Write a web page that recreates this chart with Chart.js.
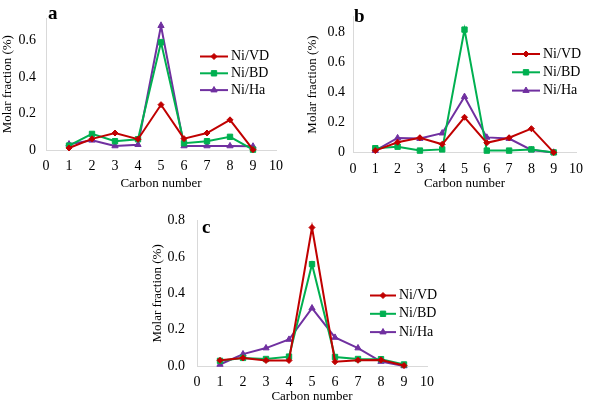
<!DOCTYPE html>
<html>
<head>
<meta charset="utf-8">
<script src="https://cdn.jsdelivr.net/npm/chart.js@4.4.0/dist/chart.umd.min.js"></script>
<style>
html, body { margin: 0; padding: 0; background: #fff; width: 591px; height: 402px; overflow: hidden; }
canvas { position: absolute; }
</style>
</head>
<body>
<canvas id="chartA" width="295" height="200" style="left:0;top:0"></canvas>
<canvas id="chartB" width="296" height="200" style="left:295px;top:0"></canvas>
<canvas id="chartC" width="300" height="210" style="left:150px;top:200px"></canvas>
<script>
// carbon number on the x axis
const carbons = [1, 2, 3, 4, 5, 6, 7, 8, 9];
const seriesNames = ['Ni/VD', 'Ni/BD', 'Ni/Ha'];

// panel a
const aVD = [0.011, 0.061, 0.093, 0.059, 0.248, 0.062, 0.093, 0.165, 0.002];
const aBD = [0.024, 0.088, 0.048, 0.059, 0.589, 0.037, 0.048, 0.072, 0.002];
const aHa = [0.032, 0.053, 0.022, 0.029, 0.680, 0.022, 0.022, 0.022, 0.020];

// panel b
const bVD = [0.014, 0.070, 0.100, 0.056, 0.236, 0.066, 0.100, 0.160, 0.002];
const bBD = [0.030, 0.040, 0.014, 0.022, 0.820, 0.014, 0.014, 0.022, 0.002];
const bHa = [0.014, 0.098, 0.094, 0.130, 0.373, 0.102, 0.094, 0.018, 0.002];

// panel c
const cVD = [0.033, 0.046, 0.032, 0.032, 0.761, 0.025, 0.033, 0.035, 0.004];
const cBD = [0.030, 0.046, 0.040, 0.053, 0.560, 0.051, 0.040, 0.039, 0.010];
const cHa = [0.010, 0.067, 0.100, 0.147, 0.319, 0.158, 0.100, 0.026, 0.002];

const colors = ['#c00000', '#00b050', '#7030a0'];
const markers = ['rectRot', 'rect', 'triangle'];
const markerSize = [3, 3.8, 3.6];
const serif = '"Liberation Serif", "Times New Roman", serif';

// legend + panel letter drawn inside the plot, like the excel figure
const insideLegend = {
    id: 'insideLegend',
    afterDatasetsDraw(chart, args, opts) {
        const ctx = chart.ctx;
        ctx.save();
        chart.data.datasets.forEach((ds, i) => {
            const y = opts.y + i * opts.gap;
            ctx.strokeStyle = ds.borderColor;
            ctx.fillStyle = ds.backgroundColor;
            ctx.lineWidth = 2;
            ctx.beginPath();
            ctx.moveTo(opts.x, y);
            ctx.lineTo(opts.x + opts.len, y);
            ctx.stroke();
            ctx.lineWidth = 1;
            Chart.helpers.drawPoint(ctx, {pointStyle: ds.pointStyle, radius: ds.pointRadius, borderWidth: 1, rotation: 0}, opts.x + opts.len / 2, y);
            ctx.fillStyle = '#000';
            ctx.font = '14px ' + serif;
            ctx.textBaseline = 'middle';
            ctx.textAlign = 'left';
            ctx.fillText(ds.label, opts.x + opts.len + 3, y);
        });
        ctx.font = 'bold 19px ' + serif;
        ctx.fillStyle = '#000';
        ctx.textBaseline = 'middle';
        ctx.fillText(opts.letter, opts.lx, opts.ly);
        ctx.restore();
    }
};

const makeChart = (id, vals, cfg) => {
    const datasets = vals.map((v, i) => ({
        label: seriesNames[i],
        data: carbons.map((c, j) => ({x: c, y: v[j]})),
        borderColor: colors[i],
        backgroundColor: colors[i],
        borderWidth: 2,
        pointStyle: markers[i],
        pointRadius: markerSize[i],
        pointBorderWidth: 1,
        tension: 0,
        clip: false
    }));

    const ctx = document.getElementById(id).getContext('2d');
    return new Chart(ctx, {
        type: 'line',
        data: {datasets: datasets},
        plugins: [insideLegend],
        options: {
            responsive: false,
            animation: false,
            layout: {padding: {top: cfg.padTop, right: cfg.padRight, left: 0, bottom: 0}},
            plugins: {
                legend: {display: false},
                tooltip: {enabled: false},
                insideLegend: cfg.legend
            },
            scales: {
                x: {
                    type: 'linear',
                    min: 0,
                    max: 10,
                    grid: {display: false, drawTicks: false},
                    border: {display: true, color: '#d9d9d9', width: 1},
                    ticks: {stepSize: 1, padding: cfg.xPad, color: '#000', font: {family: serif, size: 14}},
                    title: {display: true, text: 'Carbon number', color: '#000', font: {family: serif, size: 13}, padding: {top: 0, bottom: cfg.xTitlePad}},
                    afterFit: (s) => { s.height = cfg.xH; }
                },
                y: {
                    min: 0,
                    max: cfg.yMax,
                    grid: {display: false, drawTicks: false},
                    border: {display: true, color: '#d9d9d9', width: 1},
                    afterBuildTicks: (s) => {
                        s.ticks = s.ticks.filter(t => Math.abs(t.value * 5 - Math.round(t.value * 5)) < 1e-6);
                    },
                    ticks: {
                        stepSize: 0.2,
                        padding: cfg.yPad,
                        color: '#000',
                        font: {family: serif, size: 14},
                        callback: (v) => v === 0 ? cfg.zero : v.toFixed(1)
                    },
                    title: {display: true, text: 'Molar fraction (%)', color: '#000', font: {family: serif, size: 13}, padding: {top: cfg.yTitlePad, bottom: 0}},
                    afterFit: (s) => { s.width = cfg.yW; }
                }
            }
        }
    });
};

makeChart('chartA', [aVD, aBD, aHa], {
    padTop: 0, padRight: 19, yMax: 0.72, yW: 46, xH: 50, xPad: 8, xTitlePad: 9, yPad: 10, yTitlePad: 0, zero: '0',
    legend: {x: 200, y: 56.5, gap: 16.8, len: 28, letter: 'a', lx: 48, ly: 14}
});

makeChart('chartB', [bVD, bBD, bHa], {
    padTop: 1, padRight: 9, yMax: 0.908, yW: 58, xH: 47.3, xPad: 8, xTitlePad: 9, yPad: 8, yTitlePad: 10, zero: '0',
    legend: {x: 217, y: 54, gap: 18.3, len: 28, letter: 'b', lx: 59, ly: 17}
});

makeChart('chartC', [cVD, cBD, cHa], {
    padTop: 14.3, padRight: 23, yMax: 0.8, yW: 47, xH: 43.7, xPad: 8, xTitlePad: 6, yPad: 12, yTitlePad: 0, zero: '0.0',
    legend: {x: 220, y: 95.5, gap: 18.3, len: 26, letter: 'c', lx: 52, ly: 28}
});
</script>
</body>
</html>
